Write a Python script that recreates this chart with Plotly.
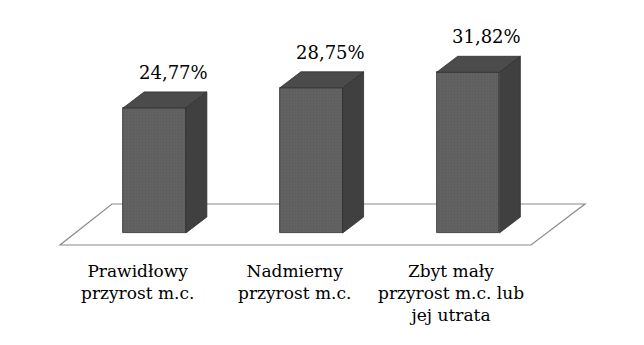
import plotly.graph_objects as go

categories = ["Prawidłowy<br>przyrost m.c.", "Nadmierny<br>przyrost m.c.", "Zbyt mały<br>przyrost m.c. lub<br>jej utrata"]
values = [24.77, 28.75, 31.82]
value_labels = ["24,77%", "28,75%", "31,82%"]

W, H = 644, 345
PX_PER_UNIT_X = 156.75   # pixels per category step
PX_PER_PCT = 5.05        # pixels per percent
X0_PX, Y0_PX = 154.5, 233  # pixel of category 0 / value 0

def px2x(px):
    return (px - X0_PX) / PX_PER_UNIT_X

def px2y(py):
    return (Y0_PX - py) / PX_PER_PCT

xr = [px2x(0), px2x(W)]
yr = [px2y(H), px2y(0)]

bw = 0.40
ddx = 21 / PX_PER_UNIT_X
ddy = 16 / PX_PER_PCT

front_col = "#626262"
side_col = "#404040"
top_col = "#4b4b4b"
edge_col = "#2e2e2e"
font = "DejaVu Serif"

xs = list(range(len(values)))

fig = go.Figure()

shapes = []
# floor parallelogram
fl = [(112, 204), (585, 204), (531, 245), (60, 245)]
path = "M " + " L ".join(f"{px2x(a)},{px2y(b)}" for a, b in fl) + " Z"
shapes.append(dict(type="path", path=path, xref="x", yref="y",
                   line=dict(color="#8a8a8a", width=1.2), fillcolor="white", layer="below"))

for x, v in zip(xs, values):
    r = x + bw / 2
    l = x - bw / 2
    side = f"M {r},0 L {r+ddx},{ddy} L {r+ddx},{v+ddy} L {r},{v} Z"
    top = f"M {l},{v} L {l+ddx},{v+ddy} L {r+ddx},{v+ddy} L {r},{v} Z"
    shapes.append(dict(type="path", path=side, xref="x", yref="y",
                       line=dict(color=edge_col, width=0.8), fillcolor=side_col, layer="above"))
    shapes.append(dict(type="path", path=top, xref="x", yref="y",
                       line=dict(color=edge_col, width=0.8), fillcolor=top_col, layer="above"))

fig.add_trace(go.Bar(
    x=xs, y=values, width=bw,
    marker=dict(color=front_col, line=dict(color=edge_col, width=0.8),
                pattern=dict(shape=".", fgcolor="#555555", bgcolor=front_col, size=3, solidity=0.3)),
    hoverinfo="skip", showlegend=False,
))

annotations = []
for x, v, t in zip(xs, values, value_labels):
    annotations.append(dict(x=x + 0.12, y=v + ddy, text=t, showarrow=False,
                            xref="x", yref="y", yanchor="bottom", yshift=7,
                            font=dict(family=font, size=18, color="black")))
for x, c in zip(xs, categories):
    annotations.append(dict(x=x - 0.11, y=px2y(259), text=c, showarrow=False,
                            xref="x", yref="y", yanchor="top", align="center",
                            font=dict(family=font, size=17, color="black")))

fig.update_layout(
    width=W, height=H,
    margin=dict(l=0, r=0, t=0, b=0),
    paper_bgcolor="white", plot_bgcolor="white",
    font=dict(family=font),
    xaxis=dict(range=xr, visible=False, fixedrange=True),
    yaxis=dict(range=yr, visible=False, fixedrange=True),
    shapes=shapes, annotations=annotations,
    bargap=0,
)

fig.write_html("out.html")
